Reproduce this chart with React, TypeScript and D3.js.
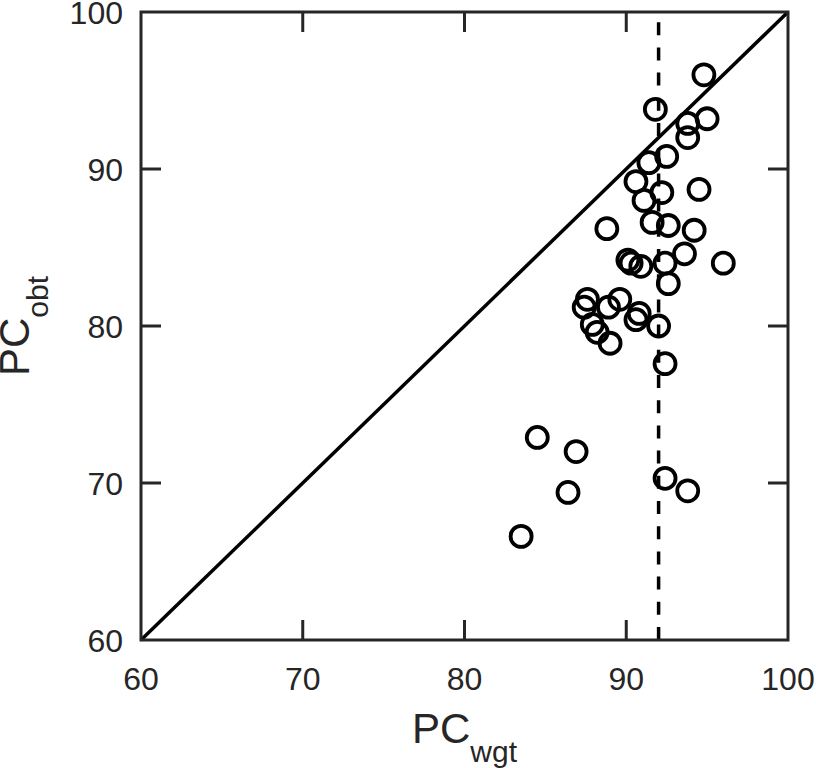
import React from "react";
import * as d3 from "d3";

// PC_wgt (x) and PC_obt (y) for each subject
const pcWgt = [
  94.8, 91.8, 93.8, 95.0, 93.8, 92.5, 91.4, 90.6, 92.2, 91.1,
  94.5, 88.8, 91.6, 92.6, 94.2, 93.6, 96.0, 90.1, 90.3, 90.9,
  92.4, 92.6, 87.6, 87.4, 88.9, 89.6, 90.8, 90.6, 92.0, 87.9,
  88.2, 89.0, 92.4, 84.5, 86.9, 86.4, 83.5, 92.4, 93.8,
];
const pcObt = [
  96.0, 93.8, 92.9, 93.2, 92.0, 90.8, 90.4, 89.2, 88.5, 88.0,
  88.7, 86.2, 86.6, 86.4, 86.1, 84.6, 84.0, 84.2, 84.0, 83.8,
  84.0, 82.7, 81.7, 81.2, 81.2, 81.7, 80.8, 80.4, 80.0, 80.1,
  79.6, 78.9, 77.6, 72.9, 72.0, 69.4, 66.6, 70.3, 69.5,
];
const ticks = [60, 70, 80, 90, 100];
const cutoff = 92; // dashed vertical line

export default function App() {
  const width = 816;
  const height = 768;
  const x = d3.scaleLinear().domain([60, 100]).range([141, 788]);
  const y = d3.scaleLinear().domain([60, 100]).range([640, 12]);
  const axisColor = "#262626";
  const font = "'Liberation Sans', Arial, Helvetica, sans-serif";
  const tickLen = 20;

  const [x0, x1] = x.range();
  const [y0, y1] = y.range();
  const cx = (x0 + x1) / 2;
  const cy = (y0 + y1) / 2;

  return (
    <svg
      width={width}
      height={height}
      style={{ position: "absolute", left: 0, top: 0, background: "#fff" }}
    >
      {/* diagonal identity line */}
      <line
        x1={x(60)} y1={y(60)} x2={x(100)} y2={y(100)}
        stroke="#000" strokeWidth={3.5}
      />
      {/* dashed cutoff */}
      <line
        x1={x(cutoff)} y1={y(60)} x2={x(cutoff)} y2={y(100)}
        stroke="#000" strokeWidth={3.5} strokeDasharray="13,12.2"
      />

      {/* points */}
      {pcWgt.map((v, i) => (
        <circle
          key={i}
          cx={x(v)}
          cy={y(pcObt[i])}
          r={10.5}
          fill="none"
          stroke="#000"
          strokeWidth={3.8}
        />
      ))}

      {/* box + ticks on all sides */}
      <rect
        x={x0} y={y1} width={x1 - x0} height={y0 - y1}
        fill="none" stroke={axisColor} strokeWidth={3}
      />
      {ticks.slice(1, -1).map((t) => (
        <g key={"t" + t} stroke={axisColor} strokeWidth={3}>
          <line x1={x(t)} x2={x(t)} y1={y0} y2={y0 - tickLen} />
          <line x1={x(t)} x2={x(t)} y1={y1} y2={y1 + tickLen} />
          <line x1={x0} x2={x0 + tickLen} y1={y(t)} y2={y(t)} />
          <line x1={x1} x2={x1 - tickLen} y1={y(t)} y2={y(t)} />
        </g>
      ))}

      {/* tick labels */}
      <g fontFamily={font} fontSize={32} fill={axisColor}>
        {ticks.map((t) => (
          <text key={"xl" + t} x={x(t)} y={690} textAnchor="middle">
            {t}
          </text>
        ))}
        {ticks.map((t) => (
          <text
            key={"yl" + t}
            x={123}
            y={y(t) + 1}
            textAnchor="end"
            dominantBaseline="central"
          >
            {t}
          </text>
        ))}
      </g>

      {/* axis titles */}
      <text
        x={cx}
        y={743}
        textAnchor="middle"
        fontFamily={font}
        fill={axisColor}
        fontSize={42}
      >
        PC
        <tspan fontSize={30} dy={19}>wgt</tspan>
      </text>
      <text
        transform={`translate(29, ${cy}) rotate(-90)`}
        textAnchor="middle"
        fontFamily={font}
        fill={axisColor}
        fontSize={42}
      >
        PC
        <tspan fontSize={30} dy={19}>obt</tspan>
      </text>
    </svg>
  );
}
